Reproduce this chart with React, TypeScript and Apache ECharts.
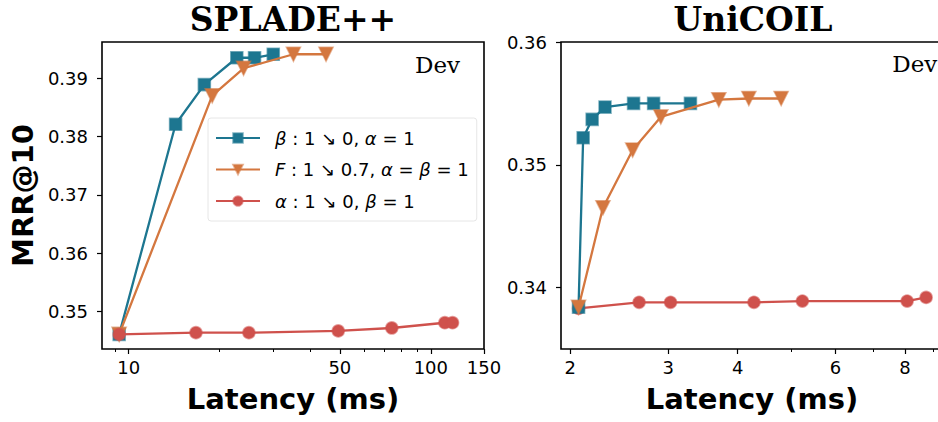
import React, { useEffect, useRef } from "react";
import * as echarts from "echarts";

// ---- data ----
const spladeBetaX = [9.3, 14.3, 17.8, 22.8, 26.1, 30.1];
const spladeBetaY = [0.3461, 0.3821, 0.3889, 0.3935, 0.3935, 0.3941];
const spladeFX = [9.3, 18.9, 24.0, 35.1, 45.0];
const spladeFY = [0.3461, 0.387, 0.3917, 0.3941, 0.3941];
const spladeAlphaX = [9.3, 16.7, 25.0, 49.4, 74.3, 111.3, 118.0];
const spladeAlphaY = [0.3461, 0.3464, 0.3464, 0.3467, 0.3472, 0.3481, 0.3481];

const unicoilBetaX = [2.07, 2.11, 2.19, 2.31, 2.6, 2.825, 3.29];
const unicoilBetaY = [0.3384, 0.3522, 0.3537, 0.3547, 0.355, 0.355, 0.355];
const unicoilFX = [2.07, 2.29, 2.59, 2.91, 3.7, 4.19, 4.79];
const unicoilFY = [0.3384, 0.3465, 0.3512, 0.3539, 0.3553, 0.3554, 0.3554];
const unicoilAlphaX = [2.07, 2.66, 3.03, 4.28, 5.23, 8.07, 8.73];
const unicoilAlphaY = [0.3383, 0.3388, 0.3388, 0.3388, 0.3389, 0.3389, 0.3392];

const leftXMajor = [10, 50, 100, 150];
const leftXMinor = [9, 20, 30, 40, 60, 70, 80, 90];
const leftYTicks = [0.35, 0.36, 0.37, 0.38, 0.39];
const rightXMajor = [2, 3, 4, 6, 8];
const rightXMinor = [5, 7, 9];
const rightYTicks = [0.34, 0.35, 0.36];

const seriesNames = ["beta", "F", "alpha"];
const legendRich: Record<string, string> = {
  beta: "{i|β}{n| : 1 ↘ 0, }{i|α}{n| = 1}",
  F: "{i|F}{n| : 1 ↘ 0.7, }{i|α}{n| = }{i|β}{n| = 1}",
  alpha: "{i|α}{n| : 1 ↘ 0, }{i|β}{n| = 1}",
};

const COL: Record<string, string> = { beta: "#1d7690", F: "#d4773f", alpha: "#cf514c" };
const EDGE: Record<string, string> = {
  beta: "rgba(29,118,144,0.55)",
  F: "rgba(212,119,63,0.55)",
  alpha: "rgba(207,81,76,0.55)",
};
const SYM: Record<string, any> = {
  beta: { symbol: "rect", symbolSize: 12, symbolRotate: 0 },
  F: { symbol: "triangle", symbolSize: 14, symbolRotate: 180 },
  alpha: { symbol: "circle", symbolSize: 12, symbolRotate: 0 },
};

const pairs = (xs: number[], ys: number[]) => xs.map((x, i) => [x, ys[i]]);

const FONT = "DejaVu Sans";

function mkSeries(name: string, xs: number[], ys: number[], xi: number, yi: number, z: number) {
  return {
    type: "line",
    name,
    xAxisIndex: xi,
    yAxisIndex: yi,
    data: pairs(xs, ys),
    ...SYM[name],
    showSymbol: true,
    z,
    lineStyle: { color: COL[name], width: 2.3 },
    itemStyle: { color: COL[name], borderColor: EDGE[name], borderWidth: 1.6 },
    emphasis: { disabled: true },
  };
}

function xAxisMain(grid: number, min: number, max: number, ticks: number[]) {
  return {
    type: "log",
    logBase: 10,
    gridIndex: grid,
    min,
    max,
    position: "bottom",
    axisLine: { show: false },
    splitLine: { show: false },
    minorTick: { show: false },
    axisTick: { show: true, length: 5, lineStyle: { color: "#000", width: 1.2 }, customValues: ticks },
    axisLabel: {
      show: true,
      customValues: ticks,
      margin: 9,
      color: "#000",
      fontFamily: FONT,
      fontSize: 18,
      formatter: (v: number) => String(Math.round(v)),
    },
  };
}

function xAxisMinor(grid: number, min: number, max: number, ticks: number[]) {
  return {
    type: "log",
    logBase: 10,
    gridIndex: grid,
    min,
    max,
    position: "bottom",
    axisLine: { show: false },
    splitLine: { show: false },
    axisTick: { show: true, length: 3, lineStyle: { color: "#000", width: 1 }, customValues: ticks },
    axisLabel: { show: false },
  };
}

function yAxis(grid: number, min: number, max: number, ticks: number[]) {
  return {
    type: "value",
    gridIndex: grid,
    min,
    max,
    axisLine: { show: false },
    splitLine: { show: false },
    axisTick: { show: true, length: 5, lineStyle: { color: "#000", width: 1.2 }, customValues: ticks },
    axisLabel: {
      show: true,
      customValues: ticks,
      margin: 14,
      color: "#000",
      fontFamily: FONT,
      fontSize: 18,
      formatter: (v: number) => v.toFixed(2),
    },
  };
}

export default function App() {
  const ref = useRef<HTMLDivElement>(null);
  useEffect(() => {
    if (!ref.current) return;
    const chart = echarts.init(ref.current, null, { renderer: "svg" });
    const gridBase = {
      top: 42,
      height: 307,
      show: true,
      borderColor: "#000",
      borderWidth: 1.6,
      backgroundColor: "transparent",
      containLabel: false,
      outerBoundsMode: "none",
    };
    const option: any = {
      animation: false,
      backgroundColor: "#fff",
      grid: [
        { ...gridBase, left: 102, width: 382 },
        { ...gridBase, left: 561, width: 395 },
      ],
      xAxis: [
        xAxisMain(0, 8.16, 150, leftXMajor),
        xAxisMinor(0, 8.16, 150, leftXMinor),
        xAxisMain(1, 1.925, 9.88, rightXMajor),
        xAxisMinor(1, 1.925, 9.88, rightXMinor),
      ],
      yAxis: [yAxis(0, 0.3436, 0.3962, leftYTicks), yAxis(1, 0.335, 0.36, rightYTicks)],
      legend: {
        show: true,
        data: seriesNames,
        orient: "vertical",
        left: 208,
        top: 118,
        itemWidth: 44,
        itemHeight: 12,
        itemGap: 9.5,
        padding: [9, 8, 9, 7],
        backgroundColor: "rgba(255,255,255,0.85)",
        borderColor: "#e6e6e6",
        borderWidth: 1,
        borderRadius: 3,
        selectedMode: false,
        formatter: (name: string) => legendRich[name],
        textStyle: {
          color: "#000",
          fontFamily: FONT,
          fontSize: 18,
          lineHeight: 22,
          padding: [0, 0, 0, 10],
          rich: {
            i: { fontFamily: FONT, fontSize: 18, fontStyle: "italic", color: "#000" },
            n: { fontFamily: FONT, fontSize: 18, color: "#000" },
          },
        },
      },
      series: [
        mkSeries("beta", spladeBetaX, spladeBetaY, 0, 0, 2),
        mkSeries("F", spladeFX, spladeFY, 0, 0, 3),
        mkSeries("alpha", spladeAlphaX, spladeAlphaY, 0, 0, 4),
        mkSeries("alpha", unicoilAlphaX, unicoilAlphaY, 2, 1, 2),
        mkSeries("beta", unicoilBetaX, unicoilBetaY, 2, 1, 3),
        mkSeries("F", unicoilFX, unicoilFY, 2, 1, 4),
      ],
      graphic: [
        { type: "text", x: 293, y: 19, style: { text: "SPLADE++", font: "bold 33px 'DejaVu Serif'", fill: "#000", align: "center", verticalAlign: "middle" } },
        { type: "text", x: 753, y: 19, style: { text: "UniCOIL", font: "bold 33px 'DejaVu Serif'", fill: "#000", align: "center", verticalAlign: "middle" } },
        { type: "text", x: 22.5, y: 195.5, rotation: Math.PI / 2, style: { text: "MRR@10", font: "bold 29px 'DejaVu Sans'", fill: "#000", align: "center", verticalAlign: "middle" } },
        { type: "text", x: 293, y: 399, style: { text: "Latency (ms)", font: "bold 29px 'DejaVu Sans'", fill: "#000", align: "center", verticalAlign: "middle" } },
        { type: "text", x: 752, y: 399, style: { text: "Latency (ms)", font: "bold 29px 'DejaVu Sans'", fill: "#000", align: "center", verticalAlign: "middle" } },
        { type: "text", x: 437.5, y: 65, style: { text: "Dev", font: "23px 'DejaVu Serif'", fill: "#000", align: "center", verticalAlign: "middle" } },
        { type: "text", x: 914.8, y: 64, style: { text: "Dev", font: "23px 'DejaVu Serif'", fill: "#000", align: "center", verticalAlign: "middle" } },
      ],
    };
    chart.setOption(option);
    return () => chart.dispose();
  }, []);
  return (
    <div
      ref={ref}
      style={{ position: "absolute", left: 0, top: 0, width: 938, height: 422, overflow: "hidden" }}
    />
  );
}
